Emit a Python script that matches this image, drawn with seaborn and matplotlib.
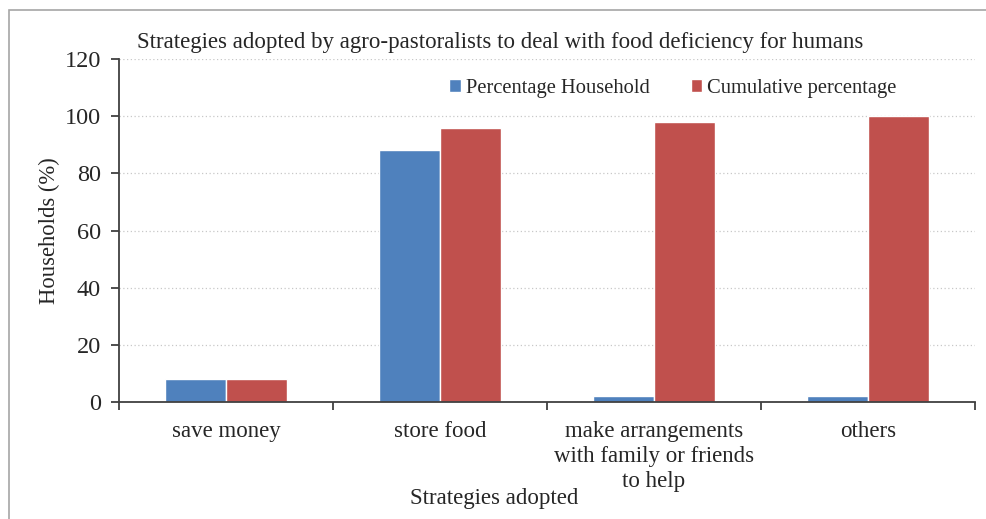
import matplotlib
matplotlib.use("Agg")
import matplotlib.pyplot as plt
from matplotlib.patches import Rectangle
import seaborn as sns
import pandas as pd

categories = ["save money", "store food",
              "make arrangements\nwith family or friends\nto help", "others"]
percentage_household = [8, 88, 2, 2]
cumulative_percentage = [8, 96, 98, 100]
series_names = ["Percentage Household", "Cumulative percentage"]
colors = ["#4F81BD", "#C0504D"]

df = pd.DataFrame({
    "Strategy": categories * 2,
    "Value": percentage_household + cumulative_percentage,
    "Series": [series_names[0]] * 4 + [series_names[1]] * 4,
})

sns.set_style("white")
plt.rcParams["font.family"] = ["Liberation Serif", "DejaVu Serif"]

fig = plt.figure(figsize=(9.86, 5.19), dpi=100)
ax = fig.add_axes([0.1207, 0.2254, 0.8681, 0.6609])

sns.barplot(data=df, x="Strategy", y="Value", hue="Series", order=categories,
            hue_order=series_names, palette=colors, width=0.57,
            saturation=1, ax=ax, legend=True)

ax.set_ylim(0, 120)
ax.set_xlim(-0.5, 3.5)
ax.set_yticks(range(0, 121, 20))
ax.yaxis.grid(True, linestyle=(0, (1, 2)), color="#c8c8c8", linewidth=0.9)
ax.set_axisbelow(True)
for s in ["top", "right"]:
    ax.spines[s].set_visible(False)
for s in ["left", "bottom"]:
    ax.spines[s].set_color("#404040")
    ax.spines[s].set_linewidth(1.3)

ax.tick_params(axis="y", which="major", direction="out", length=6, width=1.3,
               color="#404040", labelsize=17.5, pad=7, left=True)
ax.tick_params(axis="x", which="major", length=0, labelsize=16.5, pad=14)
ax.set_xticks(range(len(categories)))
ax.set_xticklabels(categories, linespacing=1.22)
ax.set_xticks([-0.5, 0.5, 1.5, 2.5, 3.5], minor=True)
ax.tick_params(axis="x", which="minor", direction="out", length=6, width=1.3,
               color="#404040", bottom=True)

ax.set_ylabel("Households (%)", fontsize=16.3, labelpad=3)
ax.set_xlabel("")
fig.text(0.501, 0.039, "Strategies adopted", ha="center", va="center", fontsize=16.5)
fig.text(0.507, 0.918, "Strategies adopted by agro-pastoralists to deal with food deficiency for humans",
         ha="center", va="center", fontsize=16.5)

leg = ax.legend(loc="center", bbox_to_anchor=(0.647, 0.915), ncol=2, frameon=False,
                fontsize=14.8, handlelength=0.55, handleheight=0.55,
                handletextpad=0.25, columnspacing=2.0)

fig.patches.append(Rectangle((9 / 986, -0.1), 1.2, 1.1 - 10 / 519,
                             transform=fig.transFigure, fill=False,
                             edgecolor="#a6a6a6", linewidth=1.2))

fig.savefig("out.png", dpi=100)
